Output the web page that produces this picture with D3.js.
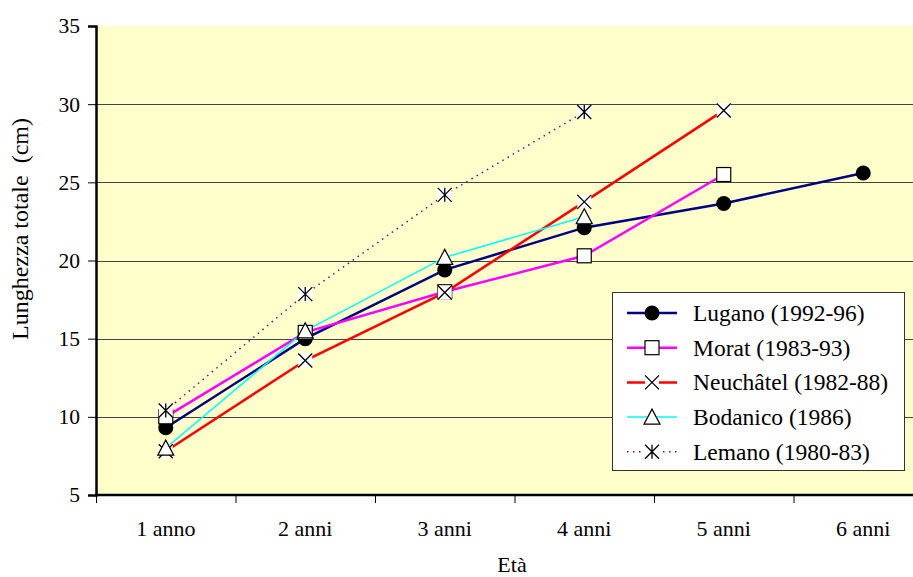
<!DOCTYPE html>
<html>
<head>
<meta charset="utf-8">
<script src="https://cdn.jsdelivr.net/npm/d3@7"></script>
<style>
  body { margin: 0; background: #fff; }
</style>
</head>
<body>
<svg id="chart" width="913" height="577"></svg>
<script>
// dati
const eta = ["1 anno", "2 anni", "3 anni", "4 anni", "5 anni", "6 anni"];
const lugano = [9.3, 15.0, 19.4, 22.1, 23.65, 25.6];
const morat = [10.0, 15.4, 18.0, 20.3, 25.5];
const neuchatel = [7.8, 13.6, 17.95, 23.75, 29.6];
const bodanico = [8.0, 15.5, 20.2, 22.8];
const lemano = [10.4, 17.85, 24.2, 29.5];
const yTicks = [5, 10, 15, 20, 25, 30, 35];

const series = [
  { name: "Lugano (1992-96)", values: lugano, color: "#000080", width: 2.5, dash: null, marker: "circle" },
  { name: "Morat (1983-93)", values: morat, color: "#ff00ff", width: 2.5, dash: null, marker: "square" },
  { name: "Neuchâtel (1982-88)", values: neuchatel, color: "#ff0000", width: 2.5, dash: null, marker: "x" },
  { name: "Bodanico (1986)", values: bodanico, color: "#00ffff", width: 1.5, dash: null, marker: "triangle" },
  { name: "Lemano (1980-83)", values: lemano, color: "#800080", width: 1.5, dash: "1.5,4.5", marker: "star" }
];

const FONT = "'Liberation Serif', 'Times New Roman', serif";
const svg = d3.select("#chart");
const mLeft = 96, mTop = 26, mBottom = 495, step = 139.5;

const x = d3.scaleBand()
  .domain(eta)
  .range([mLeft, mLeft + step * eta.length]);

const y = d3.scaleLinear()
  .domain([5, 35])
  .range([mBottom, mTop]);

// sfondo area del grafico
svg.append("rect")
  .attr("x", mLeft)
  .attr("y", mTop)
  .attr("width", 913 - mLeft)
  .attr("height", mBottom - mTop)
  .attr("fill", "#ffffcc");

// griglia
svg.append("g")
  .selectAll("line")
  .data(yTicks.filter(d => d > 5 && d < 35))
  .enter()
  .append("line")
  .attr("x1", mLeft)
  .attr("x2", 913)
  .attr("y1", d => Math.round(y(d)) + 0.5)
  .attr("y2", d => Math.round(y(d)) + 0.5)
  .attr("stroke", "#444")
  .attr("stroke-width", 1);

// asse y
const yAxis = svg.append("g")
  .attr("transform", "translate(" + mLeft + ",0)")
  .call(d3.axisLeft(y).tickValues(yTicks).tickSize(8).tickPadding(8));
yAxis.select(".domain").attr("stroke", "#000").attr("stroke-width", 2.5);
yAxis.selectAll(".tick line").attr("stroke", "#000");
yAxis.selectAll("text")
  .style("font-family", FONT)
  .style("font-size", "21.5px")
  .attr("fill", "#000");

// asse x
const xAxis = svg.append("g")
  .attr("transform", "translate(0," + mBottom + ")")
  .call(d3.axisBottom(x).tickSize(0).tickPadding(25));
xAxis.select(".domain").remove();
xAxis.selectAll("text")
  .style("font-family", FONT)
  .style("font-size", "22px")
  .attr("fill", "#000");

svg.append("line")
  .attr("x1", mLeft - 1)
  .attr("x2", 913)
  .attr("y1", mBottom)
  .attr("y2", mBottom)
  .attr("stroke", "#000")
  .attr("stroke-width", 2.5);

svg.append("g")
  .selectAll("line")
  .data(eta)
  .enter()
  .append("line")
  .attr("x1", d => x(d) + 0.5)
  .attr("x2", d => x(d) + 0.5)
  .attr("y1", mBottom)
  .attr("y2", mBottom + 8)
  .attr("stroke", "#000");

// titoli assi
svg.append("text")
  .attr("transform", "translate(28,229) rotate(-90)")
  .attr("text-anchor", "middle")
  .style("font-family", FONT)
  .style("font-size", "24px")
  .style("white-space", "pre")
  .text("Lunghezza totale  (cm)");

svg.append("text")
  .attr("x", 512)
  .attr("y", 572)
  .attr("text-anchor", "middle")
  .style("font-family", FONT)
  .style("font-size", "22px")
  .text("Età");

function drawMarker(g, type, cx, cy) {
  const s = 7;
  if (type === "circle") {
    g.append("circle").attr("cx", cx).attr("cy", cy).attr("r", 7.5).attr("fill", "#000");
  } else if (type === "square") {
    g.append("rect").attr("x", cx - s).attr("y", cy - s).attr("width", 2 * s).attr("height", 2 * s)
      .attr("fill", "#fff").attr("stroke", "#000").attr("stroke-width", 1.2);
  } else if (type === "triangle") {
    g.append("path")
      .attr("d", "M" + cx + "," + (cy - 8) + "L" + (cx + 8) + "," + (cy + 7) + "L" + (cx - 8) + "," + (cy + 7) + "Z")
      .attr("fill", "#fff").attr("stroke", "#000").attr("stroke-width", 1.2);
  } else if (type === "x" || type === "star") {
    g.append("rect").attr("x", cx - s).attr("y", cy - s).attr("width", 2 * s).attr("height", 2 * s)
      .attr("fill", "#fff");
    let d = "M" + (cx - s) + "," + (cy - s) + "L" + (cx + s) + "," + (cy + s) +
      "M" + (cx + s) + "," + (cy - s) + "L" + (cx - s) + "," + (cy + s);
    if (type === "star") d += "M" + cx + "," + (cy - s) + "L" + cx + "," + (cy + s);
    g.append("path").attr("d", d).attr("stroke", "#000").attr("stroke-width", 1.3).attr("fill", "none");
  }
}

const line = d3.line()
  .x((d, i) => x(eta[i]) + x.bandwidth() / 2)
  .y(d => y(d));

const plot = svg.append("g");
series.forEach(function (s) {
  plot.append("path")
    .datum(s.values)
    .attr("d", line)
    .attr("fill", "none")
    .attr("stroke", s.color)
    .attr("stroke-width", s.width)
    .attr("stroke-dasharray", s.dash);
});
series.forEach(function (s) {
  const g = plot.append("g");
  s.values.forEach(function (v, i) {
    drawMarker(g, s.marker, x(eta[i]) + x.bandwidth() / 2, y(v));
  });
});

// legenda
const leg = svg.append("g");
leg.append("rect")
  .attr("x", 612.5)
  .attr("y", 292.5)
  .attr("width", 292)
  .attr("height", 178)
  .attr("fill", "#fff")
  .attr("stroke", "#333")
  .attr("stroke-width", 1);

series.forEach(function (s, i) {
  const ly = 313 + i * 34.7;
  leg.append("line")
    .attr("x1", 627).attr("x2", 677)
    .attr("y1", ly).attr("y2", ly)
    .attr("stroke", s.color)
    .attr("stroke-width", s.width)
    .attr("stroke-dasharray", s.dash);
  drawMarker(leg, s.marker, 652, ly);
  leg.append("text")
    .attr("x", 693)
    .attr("y", ly + 8)
    .style("font-family", FONT)
    .style("font-size", "23.5px")
    .text(s.name);
});
</script>
</body>
</html>
